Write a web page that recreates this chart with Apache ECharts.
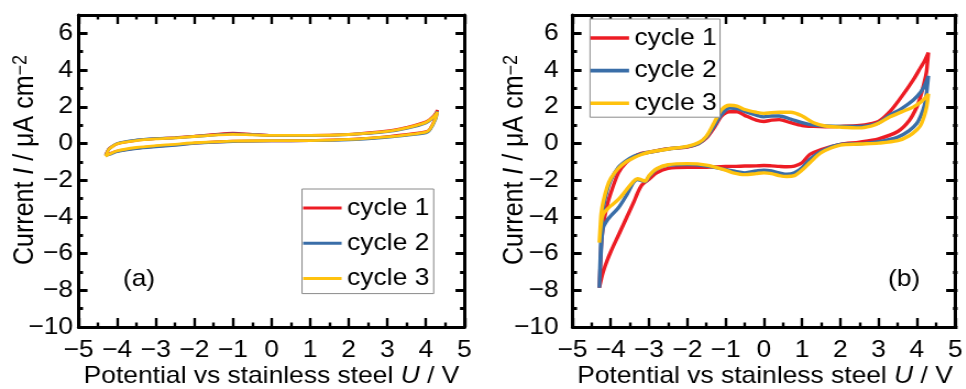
<!DOCTYPE html>
<html>
<head>
<meta charset="utf-8">
<script src="https://cdn.jsdelivr.net/npm/echarts@6.0.0/dist/echarts.min.js"></script>
<style>
  html, body { margin: 0; padding: 0; background: #fff; overflow: hidden; }
  /* the figure is laid out narrower and widened horizontally */
  #chart { width: 878px; height: 389px; transform: scaleX(1.1); transform-origin: 0 0; }
</style>
</head>
<body>
<div id="chart"></div>
<script>
// ---- Panel (a): cyclic voltammograms, three cycles ----
const uAnodicA = [-4.3, -4.25, -4.2, -4.0, -3.5, -3.0, -2.5, -2.0, -1.5, -1.0, -0.5, 0, 1.0, 2.0, 3.0, 3.5, 4.0, 4.2, 4.3];
const cycle1AnodicA = [-0.62, -0.42, -0.27, -0.02, 0.17, 0.26, 0.32, 0.40, 0.49, 0.56, 0.50, 0.44, 0.44, 0.50, 0.68, 0.88, 1.18, 1.50, 1.82];
const cycle2AnodicA = [-0.66, -0.44, -0.28, 0.00, 0.19, 0.27, 0.31, 0.38, 0.46, 0.52, 0.48, 0.44, 0.43, 0.48, 0.64, 0.82, 1.12, 1.44, 1.75];
const cycle3AnodicA = [-0.70, -0.45, -0.29, -0.02, 0.16, 0.25, 0.30, 0.38, 0.45, 0.50, 0.47, 0.44, 0.44, 0.49, 0.66, 0.85, 1.15, 1.45, 1.72];

const uCathodicA = [4.3, 4.25, 4.1, 4.0, 3.5, 3.0, 2.0, 1.0, 0, -1.0, -2.0, -2.5, -3.0, -3.5, -4.0, -4.2, -4.3];
const cycle1CathodicA = [1.82, 1.40, 0.78, 0.64, 0.50, 0.37, 0.22, 0.16, 0.14, 0.12, 0.02, -0.08, -0.16, -0.25, -0.42, -0.56, -0.62];
const cycle2CathodicA = [1.75, 1.30, 0.72, 0.58, 0.44, 0.34, 0.20, 0.15, 0.14, 0.10, 0.00, -0.10, -0.18, -0.28, -0.45, -0.60, -0.66];
const cycle3CathodicA = [1.72, 1.35, 0.76, 0.62, 0.47, 0.36, 0.22, 0.16, 0.15, 0.13, 0.04, -0.05, -0.12, -0.22, -0.40, -0.58, -0.70];

// ---- Panel (b): cyclic voltammograms, three cycles ----
const uAnodicB = [-4.3, -4.27, -4.25, -4.2, -4.1, -4.0, -3.8, -3.6, -3.4, -3.2, -3.0, -2.5, -2.0, -1.7, -1.5, -1.3, -1.1, -0.9, -0.7, -0.5,
                  -0.2, 0, 0.2, 0.4, 0.7, 1.0, 1.3, 1.6, 2.0, 2.5, 2.8, 3.0, 3.3, 3.6, 3.9, 4.1, 4.2, 4.3];
const cycle1AnodicB = [-7.86, -6.6, -5.6, -4.5, -3.4, -2.7, -1.6, -1.05, -0.73, -0.54, -0.47, -0.29, -0.2, 0.0, 0.3, 0.85, 1.5, 1.73, 1.73, 1.53,
                       1.27, 1.2, 1.27, 1.3, 1.13, 0.98, 0.93, 0.91, 0.93, 0.98, 1.08, 1.2, 1.75, 2.55, 3.45, 4.15, 4.5, 4.95];
const cycle2AnodicB = [-7.86, -6.0, -4.9, -3.6, -2.6, -2.0, -1.3, -0.95, -0.7, -0.57, -0.48, -0.3, -0.17, 0.0, 0.35, 0.95, 1.6, 1.93, 1.9, 1.75,
                       1.55, 1.45, 1.5, 1.5, 1.33, 1.13, 1.0, 0.95, 0.93, 0.93, 1.0, 1.13, 1.55, 1.9, 2.35, 2.8, 3.15, 3.68];
const cycle3AnodicB = [-5.4, -4.4, -3.8, -3.2, -2.4, -1.9, -1.35, -1.0, -0.78, -0.6, -0.48, -0.3, -0.16, 0.05, 0.4, 1.13, 1.85, 2.08, 2.04, 1.85,
                       1.7, 1.64, 1.68, 1.7, 1.7, 1.5, 1.13, 0.95, 0.89, 0.85, 0.95, 1.1, 1.45, 1.72, 1.98, 2.25, 2.45, 2.7];

const uCathodicB = [4.3, 4.27, 4.25, 4.2, 4.1, 4.0, 3.8, 3.5, 3.0, 2.5, 2.0, 1.5, 1.2, 1.0, 0.8, 0.6, 0.4, 0.2, 0, -0.2,
                    -0.5, -0.8, -1.0, -1.5, -2.0, -2.5, -2.8, -3.0, -3.1, -3.2, -3.3, -3.4, -3.6, -3.8, -4.0, -4.1, -4.2, -4.25, -4.3];
const cycle1CathodicB = [4.95, 4.3, 3.9, 3.4, 2.6, 2.0, 1.25, 0.65, 0.25, 0.07, -0.05, -0.33, -0.6, -1.05, -1.23, -1.27, -1.25, -1.22, -1.2, -1.22,
                         -1.23, -1.25, -1.25, -1.3, -1.3, -1.36, -1.6, -1.95, -2.1, -2.3, -2.7, -3.2, -4.1, -5.0, -5.9, -6.4, -7.0, -7.4, -7.86];
const cycle2CathodicB = [3.68, 3.1, 2.7, 2.1, 1.5, 1.1, 0.7, 0.35, 0.1, -0.02, -0.05, -0.42, -0.87, -1.32, -1.6, -1.68, -1.6, -1.5, -1.45, -1.5,
                         -1.6, -1.5, -1.42, -1.23, -1.15, -1.18, -1.4, -1.8, -2.08, -2.02, -1.96, -2.1, -2.86, -3.5, -3.95, -4.2, -4.6, -5.8, -7.86];
const cycle3CathodicB = [2.7, 2.2, 1.95, 1.55, 1.0, 0.75, 0.42, 0.15, 0.02, -0.03, -0.09, -0.5, -1.05, -1.45, -1.75, -1.8, -1.75, -1.64, -1.6, -1.64,
                         -1.7, -1.6, -1.45, -1.18, -1.1, -1.16, -1.38, -1.75, -2.05, -1.98, -1.92, -2.05, -2.55, -3.05, -3.4, -3.6, -3.85, -4.3, -5.4];

const cycleNames = ['cycle 1', 'cycle 2', 'cycle 3'];
const xTicks = { min: -5, max: 5, step: 1 };
const yTicks = { min: -10, max: 7, step: 2 };

// ---- layout & style ----
const STRETCH = 1.1;
const px = v => v / STRETCH;           // horizontal page pixels -> chart pixels
const FONT = '"Liberation Sans", Arial, Helvetica, sans-serif';
const COLORS = ['#ed1c24', '#3a6ea8', '#ffc20e'];
const AXIS_W = 3;
const TICK_FONT = 24;

const fmt = v => (v < 0 ? '\u2212' + Math.abs(v) : String(v));
const zip = (u, i) => u.map((x, k) => [x, i[k]]);
const loop = (ua, ia, uc, ic) => zip(ua, ia).concat(zip(uc, ic).slice(1));

// tick labels set as rich text so the size is fixed explicitly
const tickRich = { n: { fontSize: TICK_FONT, fontFamily: FONT, color: '#000', lineHeight: TICK_FONT } };
const tickText = v => '{n|' + fmt(v) + '}';

const plotA = { left: px(78.5), top: 15, width: px(386), height: 312 };
const plotB = { left: px(572.5), top: 15, width: px(385), height: 312 };

function xAxisFrame(gridIndex, position, labels) {
  return {
    type: 'value', gridIndex, position,
    min: xTicks.min, max: xTicks.max, interval: xTicks.step,
    axisLine: { show: true, onZero: false, lineStyle: { color: '#000', width: AXIS_W } },
    axisTick: { show: true, inside: true, length: 9, lineStyle: { color: '#000', width: 2.4 } },
    minorTick: { show: true, splitNumber: 2, length: 4.5, lineStyle: { color: '#000', width: 2.4 } },
    splitLine: { show: false }, minorSplitLine: { show: false },
    axisLabel: {
      show: labels, margin: 11, color: '#000', fontSize: TICK_FONT, fontFamily: FONT,
      formatter: tickText, rich: tickRich,
      showMinLabel: true, showMaxLabel: true, hideOverlap: false
    }
  };
}
function yAxisFrame(gridIndex, position, labels, margin) {
  return {
    type: 'value', gridIndex, position,
    min: yTicks.min, max: yTicks.max, interval: yTicks.step,
    axisLine: { show: true, onZero: false, lineStyle: { color: '#000', width: AXIS_W } },
    axisTick: { show: true, inside: true, length: px(9), lineStyle: { color: '#000', width: AXIS_W } },
    splitLine: { show: false },
    axisLabel: {
      show: labels, margin, color: '#000', fontSize: TICK_FONT, fontFamily: FONT,
      formatter: v => (Math.abs(v) % 2 === 1 ? '' : tickText(v)), rich: tickRich,
      showMaxLabel: false, hideOverlap: false
    }
  };
}
function yAxisMinor(gridIndex, position) {
  return {
    type: 'value', gridIndex, position,
    min: yTicks.min, max: yTicks.max, interval: 1,
    axisLine: { show: false, onZero: false },
    axisTick: { show: true, inside: true, length: px(4.5), lineStyle: { color: '#000', width: AXIS_W } },
    splitLine: { show: false }, axisLabel: { show: false }
  };
}
function hiddenX(gridIndex) {
  return { type: 'value', gridIndex, min: xTicks.min, max: xTicks.max, show: false };
}

function cycleSeries(xAxisIndex, yAxisIndex, width, loops) {
  return loops.map((data, k) => ({
    type: 'line', name: cycleNames[k], xAxisIndex, yAxisIndex, data,
    symbol: 'none', showSymbol: false, smooth: 0.3,
    color: COLORS[k],
    lineStyle: { width, color: COLORS[k] },
    emphasis: { disabled: true }
  }));
}

function legendBox(left, top, padding, itemGap, lineWidth) {
  return {
    data: cycleNames, orient: 'vertical', left, top, padding, itemGap,
    icon: 'rect', itemWidth: px(38.5), itemHeight: lineWidth, selectedMode: false,
    backgroundColor: '#fff', borderColor: '#8a8a8a', borderWidth: 1, borderRadius: 0,
    textStyle: { fontSize: 24, fontFamily: FONT, color: '#000', lineHeight: 28 }
  };
}

const richTitle = {
  t: { fontSize: 25, fontFamily: FONT, color: '#000' },
  i: { fontSize: 25, fontFamily: FONT, color: '#000', fontStyle: 'italic' },
  s: { fontSize: 18, fontFamily: FONT, color: '#000', verticalAlign: 'top' }
};
const richX = {
  t: { fontSize: 24, fontFamily: FONT, color: '#000' },
  i: { fontSize: 24, fontFamily: FONT, color: '#000', fontStyle: 'italic' }
};
function yTitle(x) {
  return {
    type: 'text', x, y: 160, rotation: Math.PI / 2,
    style: { text: '{t|Current }{i|I}{t| / \u03bcA cm}{s|\u22122}', rich: richTitle, align: 'center', verticalAlign: 'middle' }
  };
}
function xTitle(x) {
  return {
    type: 'text', x, y: 376.5,
    style: { text: '{t|Potential vs stainless steel }{i|U}{t| / V}', rich: richX, align: 'center', verticalAlign: 'middle' }
  };
}
function panelTag(x, text) {
  return {
    type: 'text', x, y: 279,
    style: { text, fontSize: 24, fontFamily: FONT, fill: '#000', align: 'center', verticalAlign: 'middle' }
  };
}

const chart = echarts.init(document.getElementById('chart'));
chart.setOption({
  animation: false,
  backgroundColor: '#fff',
  grid: [
    Object.assign({}, plotA),
    Object.assign({}, plotA),
    Object.assign({}, plotB),
    Object.assign({}, plotB)
  ],
  xAxis: [
    xAxisFrame(0, 'bottom', true), xAxisFrame(0, 'top', false), hiddenX(1),
    xAxisFrame(2, 'bottom', true), xAxisFrame(2, 'top', false), hiddenX(3)
  ],
  yAxis: [
    yAxisFrame(0, 'left', true, 5), yAxisFrame(0, 'right', false, 5),
    yAxisMinor(1, 'left'), yAxisMinor(1, 'right'),
    yAxisFrame(2, 'left', true, 12.5), yAxisFrame(2, 'right', false, 12.5),
    yAxisMinor(3, 'left'), yAxisMinor(3, 'right')
  ],
  legend: [
    legendBox(px(302), 189, [5, 4, 1, 1], 7.3, 3),
    legendBox(px(590), 19, [5, 3, 0, 0.5], 4.6, 3.6)
  ],
  series: [].concat(
    cycleSeries(0, 0, 2.8, [
      loop(uAnodicA, cycle1AnodicA, uCathodicA, cycle1CathodicA),
      loop(uAnodicA, cycle2AnodicA, uCathodicA, cycle2CathodicA),
      loop(uAnodicA, cycle3AnodicA, uCathodicA, cycle3CathodicA)
    ]),
    cycleSeries(3, 4, 3.4, [
      loop(uAnodicB, cycle1AnodicB, uCathodicB, cycle1CathodicB),
      loop(uAnodicB, cycle2AnodicB, uCathodicB, cycle2CathodicB),
      loop(uAnodicB, cycle3AnodicB, uCathodicB, cycle3CathodicB)
    ])
  ),
  graphic: [
    yTitle(px(25)), yTitle(px(515)),
    xTitle(px(271.5)), xTitle(px(765)),
    panelTag(px(139), '(a)'), panelTag(px(904), '(b)')
  ]
});
</script>
</body>
</html>
